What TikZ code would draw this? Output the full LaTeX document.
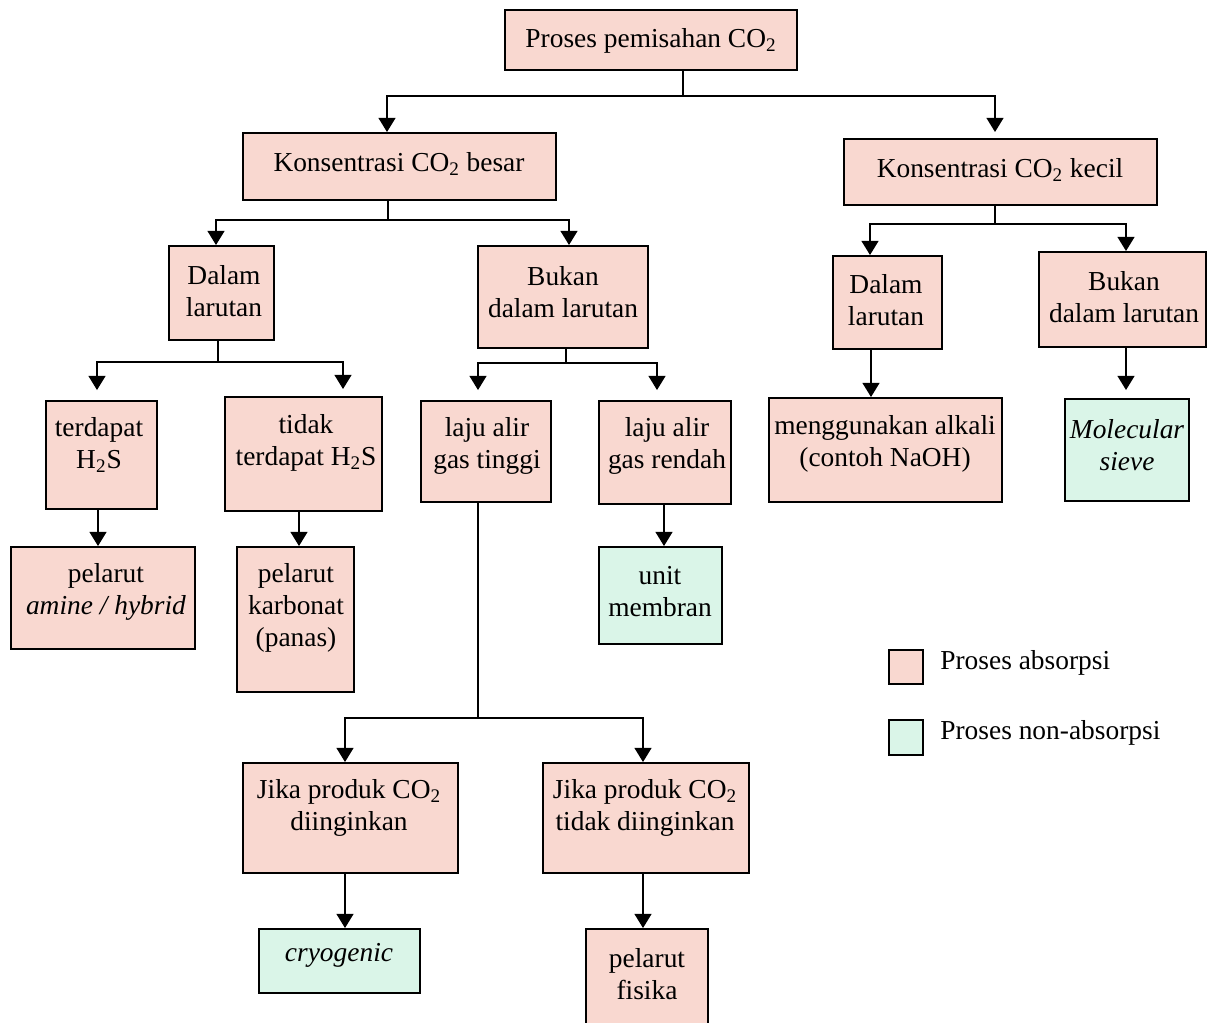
\documentclass[tikz,border=0pt]{standalone}
\usepackage{fontspec}
\setmainfont{Liberation Serif}
\usetikzlibrary{arrows.meta,fit}
\definecolor{absorp}{HTML}{F9D8D0}
\definecolor{nonabsorp}{HTML}{DAF5E8}
\tikzset{
  box/.style={draw, line width=1.1pt, inner sep=0pt},
  pinkbox/.style={box, fill=absorp},
  greenbox/.style={box, fill=nonabsorp},
  txt/.style={align=center, inner sep=0pt, font=\fontsize{15.6}{18.2}\selectfont},
  link/.style={line width=1.1pt},
  arrow/.style={link, -{Triangle[width=9.5pt,length=8pt]}},
}
\begin{document}
\begin{tikzpicture}[x=0.02cm, y=-0.02cm]
    \useasboundingbox (0,0) rectangle (1209,1022);
    \clip (0,0) rectangle (1209,1022);
    % boxes
    \node[pinkbox, fit={(505,10) (797,70)}] (proses) {};
    \node[pinkbox, fit={(243,133) (556,200)}] (besar) {};
    \node[pinkbox, fit={(844,139) (1157,205)}] (kecil) {};
    \node[pinkbox, fit={(169,246) (274,340)}] (dalamL) {};
    \node[pinkbox, fit={(478,246) (648,348)}] (bukanL) {};
    \node[pinkbox, fit={(833,256) (942,349)}] (dalamR) {};
    \node[pinkbox, fit={(1039,252) (1206,347)}] (bukanR) {};
    \node[pinkbox, fit={(46,401) (157,509)}] (adaHS) {};
    \node[pinkbox, fit={(225,397) (382,511)}] (tanpaHS) {};
    \node[pinkbox, fit={(421,401) (551,502)}] (tinggi) {};
    \node[pinkbox, fit={(599,401) (731,504)}] (rendah) {};
    \node[pinkbox, fit={(769,398) (1002,502)}] (alkali) {};
    \node[greenbox, fit={(1065,399) (1189,501)}] (sieve) {};
    \node[pinkbox, fit={(11,547) (195,649)}] (amine) {};
    \node[pinkbox, fit={(237,547) (354,692)}] (karbonat) {};
    \node[greenbox, fit={(599,547) (722,644)}] (membran) {};
    \node[pinkbox, fit={(243,763) (458,873)}] (produk) {};
    \node[pinkbox, fit={(543,763) (749,873)}] (tanpaProduk) {};
    \node[greenbox, fit={(259,929) (420,993)}] (cryo) {};
    \node[pinkbox, fit={(586,929) (708,1040)}] (fisika) {};
    \node[pinkbox, fit={(889,650) (923,684)}] (legAbs) {};
    \node[greenbox, fit={(889,720) (923,755)}] (legNon) {};
    % texts
    \node[txt] (proses-t) at (651,41) {Proses pemisahan CO\textsubscript{2}};
    \node[txt] (besar-t) at (399,164) {Konsentrasi CO\textsubscript{2} besar};
    \node[txt] (kecil-t) at (1000,170) {Konsentrasi CO\textsubscript{2} kecil};
    \node[txt] (dalamL-t) at (224,291) {Dalam\\larutan};
    \node[txt] (bukanL-t) at (563,292) {Bukan\\dalam larutan};
    \node[txt] (dalamR-t) at (886,300) {Dalam\\larutan};
    \node[txt] (bukanR-t) at (1124,297) {Bukan\\dalam larutan};
    \node[txt] (adaHS-t) at (99,445) {terdapat\\H\textsubscript{2}S};
    \node[txt] (tanpaHS-t) at (306,443) {tidak\\terdapat H\textsubscript{2}S};
    \node[txt] (tinggi-t) at (487,446) {laju alir\\gas tinggi};
    \node[txt] (rendah-t) at (667,446) {laju alir\\gas rendah};
    \node[txt] (alkali-t) at (885,444) {menggunakan alkali\\(contoh NaOH)};
    \node[txt] (sieve-t) at (1127,445) {\itshape Molecular\\\itshape sieve};
    \node[txt] (amine-t) at (106,592) {pelarut\\\textit{amine / hybrid}};
    \node[txt] (karbonat-t) at (296,608) {pelarut\\karbonat\\(panas)};
    \node[txt] (membran-t) at (660,592) {unit\\membran};
    \node[txt] (produk-t) at (349,808) {Jika produk CO\textsubscript{2}\\diinginkan};
    \node[txt] (tanpaProduk-t) at (645,808) {Jika produk CO\textsubscript{2}\\tidak diinginkan};
    \node[txt] (cryo-t) at (339,955) {\textit{cryogenic}};
    \node[txt] (fisika-t) at (647,974) {pelarut\\fisika};
    \node[txt, anchor=west] (legAbs-t) at (940,663) {Proses absorpsi};
    \node[txt, anchor=west] (legNon-t) at (940,733) {Proses non-absorpsi};
    % junctions
    \coordinate (j0) at (683,96);
    \coordinate (j0l) at (387,96);
    \coordinate (j0r) at (995,96);
    \coordinate (j1) at (388,220);
    \coordinate (j1l) at (216,220);
    \coordinate (j1r) at (569,220);
    \coordinate (j2) at (995,224);
    \coordinate (j2l) at (870,224);
    \coordinate (j2r) at (1126,224);
    \coordinate (j3) at (218,362);
    \coordinate (j3l) at (97,362);
    \coordinate (j3r) at (343,362);
    \coordinate (j4) at (566,363);
    \coordinate (j4l) at (478,363);
    \coordinate (j4r) at (657,363);
    \coordinate (j5) at (478,718);
    \coordinate (j5l) at (345,718);
    \coordinate (j5r) at (643,718);
    % connectors
    \draw[link] (proses.south -| j0) -- (j0);
    \draw[arrow] (j0) -- (j0l) -- (besar.north -| j0l);
    \draw[arrow, shorten >=0.12cm] (j0) -- (j0r) -- (kecil.north -| j0r);
    \draw[link] (besar.south -| j1) -- (j1);
    \draw[arrow] (j1) -- (j1l) -- (dalamL.north -| j1l);
    \draw[arrow] (j1) -- (j1r) -- (bukanL.north -| j1r);
    \draw[link] (kecil.south -| j2) -- (j2);
    \draw[arrow] (j2) -- (j2l) -- (dalamR.north -| j2l);
    \draw[arrow] (j2) -- (j2r) -- (bukanR.north -| j2r);
    \draw[link] (dalamL.south -| j3) -- (j3);
    \draw[arrow, shorten >=0.2cm] (j3) -- (j3l) -- (adaHS.north -| j3l);
    \draw[arrow, shorten >=0.14cm] (j3) -- (j3r) -- (tanpaHS.north -| j3r);
    \draw[link] (bukanL.south -| j4) -- (j4);
    \draw[arrow, shorten >=0.2cm] (j4) -- (j4l) -- (tinggi.north -| j4l);
    \draw[arrow, shorten >=0.2cm] (j4) -- (j4r) -- (rendah.north -| j4r);
    \draw[arrow] (adaHS.south -| 98,0) -- (amine.north -| 98,0);
    \draw[arrow] (tanpaHS.south -| 299,0) -- (karbonat.north -| 299,0);
    \draw[arrow] (rendah.south -| 664,0) -- (membran.north -| 664,0);
    \draw[arrow] (dalamR.south -| 871,0) -- (alkali.north -| 871,0);
    \draw[arrow, shorten >=0.16cm] (bukanR.south -| 1126,0) -- (sieve.north -| 1126,0);
    \draw[link] (tinggi.south -| j5) -- (j5);
    \draw[arrow] (j5) -- (j5l) -- (produk.north -| j5l);
    \draw[arrow] (j5) -- (j5r) -- (tanpaProduk.north -| j5r);
    \draw[arrow] (produk.south -| j5l) -- (cryo.north -| j5l);
    \draw[arrow] (tanpaProduk.south -| j5r) -- (fisika.north -| j5r);
\end{tikzpicture}
\end{document}
